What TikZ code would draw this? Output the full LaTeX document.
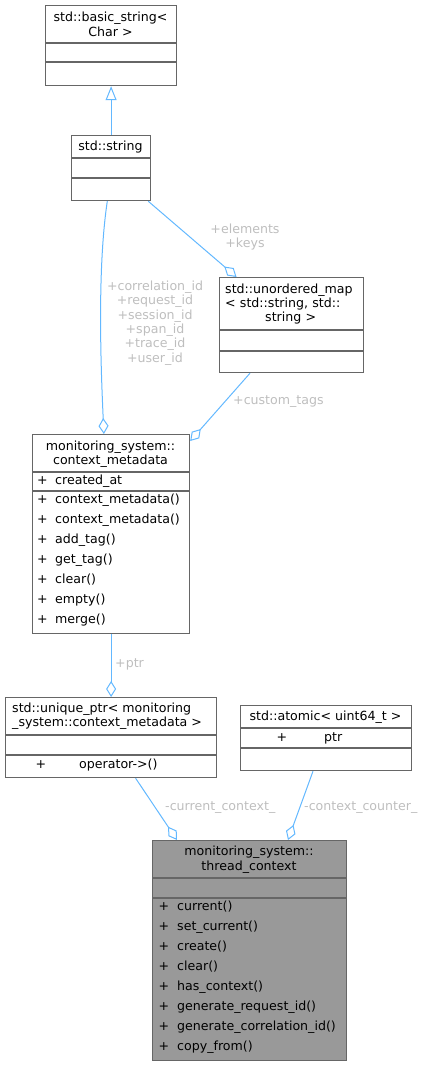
\documentclass[tikz,border=0pt]{standalone}
\usepackage{fontspec}
\setmainfont{DejaVu Sans}
\usetikzlibrary{arrows.meta}
\definecolor{edgec}{HTML}{63B8FF}
\definecolor{bord}{HTML}{666666}
\definecolor{labc}{HTML}{BEBEBE}
\definecolor{tcfill}{HTML}{999999}
\newcommand\dxfont{\fontsize{12.6pt}{14.4pt}\selectfont}
\tikzset{
  box/.style={draw=bord, line width=1.2pt, fill=white, inner sep=0pt, anchor=north west},
  divl/.style={draw=bord, line width=1.2pt},
  ttl/.style={align=center, inner sep=0pt},
  row/.style={anchor=west, inner sep=0pt, text height=9.2pt, text depth=2.6pt},
  plus/.style={anchor=center, inner sep=0pt, text height=9.2pt, text depth=2.6pt},
  lab/.style={text=labc, inner sep=0pt, align=center},
  edge/.style={draw=edgec, line width=1pt},
  agg/.style={edge, -{Diamond[open, length=16pt, width=10pt, line width=1pt]}},
  inh/.style={edge, -{Triangle[open, length=14pt, width=11pt, line width=1pt, fill=white]}}
}
\begin{document}
\begin{tikzpicture}[x=1pt, y=-1pt, font=\dxfont]
\useasboundingbox (0,0) rectangle (427,1065);

% std::basic_string<Char>
\node[box, minimum width=131pt, minimum height=80pt] (b1) at (45,5) {};
\draw[divl] (b1.west |- 0,43) -- (b1.east |- 0,43);
\draw[divl] (b1.west |- 0,62) -- (b1.east |- 0,62);
\node[ttl] (t1) at (110.5,24.5) {std::basic\_string<\\Char >};

% std::string
\node[box, minimum width=79pt, minimum height=65pt] (b2) at (71,135) {};
\draw[divl] (b2.west |- 0,158) -- (b2.east |- 0,158);
\draw[divl] (b2.west |- 0,178) -- (b2.east |- 0,178);
\node[ttl] (t2) at (110.5,147) {std::string};

% std::unordered_map
\node[box, minimum width=144pt, minimum height=95pt] (b3) at (219,277) {};
\draw[divl] (b3.west |- 0,330) -- (b3.east |- 0,330);
\draw[divl] (b3.west |- 0,351) -- (b3.east |- 0,351);
\node[inner sep=0pt, align=left, text width=131pt, anchor=west] (t3) at (225,304)
  {std::unordered\_map\\< std::string, std::\\\makebox[131pt][c]{string >}};

% monitoring_system::context_metadata
\node[box, minimum width=157pt, minimum height=199pt] (b4) at (32,434) {};
\draw[divl] (b4.west |- 0,472) -- (b4.east |- 0,472);
\draw[divl] (b4.west |- 0,491) -- (b4.east |- 0,491);
\node[ttl] (t4) at (110.5,454) {monitoring\_system::\\context\_metadata};
\node[plus] (cma) at (42.5,481) {+};
\node[row] (cmat) at (55,481) {created\_at};
\foreach \t [count=\i] in {context\_metadata(),context\_metadata(),add\_tag(),get\_tag(),clear(),empty(),merge()} {
  \node[plus] (cmp\i) at (42.5,{480+20*\i}) {+};
  \node[row] (cmm\i) at (55,{480+20*\i}) {\t};
}

% std::unique_ptr
\node[box, minimum width=211pt, minimum height=80pt] (b5) at (5,697) {};
\draw[divl] (b5.west |- 0,735) -- (b5.east |- 0,735);
\draw[divl] (b5.west |- 0,755) -- (b5.east |- 0,755);
\node[inner sep=0pt, align=left, anchor=west] (t5) at (12,716)
  {std::unique\_ptr< monitoring\\\_system::context\_metadata >};
\node[plus] (upp) at (41,765) {+};
\node[row] (upo) at (79,765) {operator->()};

% std::atomic
\node[box, minimum width=171pt, minimum height=65pt] (b6) at (240,705) {};
\draw[divl] (b6.west |- 0,728) -- (b6.east |- 0,728);
\draw[divl] (b6.west |- 0,748) -- (b6.east |- 0,748);
\node[ttl] (t6) at (325.5,717) {std::atomic< uint64\_t >};
\node[plus] (atp) at (282,738) {+};
\node[row] (atr) at (324,738) {ptr};

% monitoring_system::thread_context
\node[box, fill=tcfill, minimum width=194pt, minimum height=220pt] (b7) at (152,840) {};
\draw[divl] (b7.west |- 0,878) -- (b7.east |- 0,878);
\draw[divl] (b7.west |- 0,898) -- (b7.east |- 0,898);
\node[ttl] (t7) at (249,859.5) {monitoring\_system::\\thread\_context};
\foreach \t [count=\i] in {current(),set\_current(),create(),clear(),has\_context(),generate\_request\_id(),generate\_correlation\_id(),copy\_from()} {
  \node[plus] (tcp\i) at (164,{887+20*\i}) {+};
  \node[row] (tcm\i) at (177,{887+20*\i}) {\t};
}

% edges
\draw[inh] (b2.north) -- (b1.south);
\draw[agg] ([xshift=-3.8pt]b2.south) .. controls (97,270) and (101,370) .. ([xshift=-7.2pt]b4.north);
\node[lab] (l1) at (155,323) {+correlation\_id\\+request\_id\\+session\_id\\+span\_id\\+trace\_id\\+user\_id};
\draw[agg] ([xshift=-3pt]b2.south east) -- ([xshift=17.5pt]b3.north west);
\node[lab] (l2) at (245,237) {+elements\\+keys};
\draw[agg] ([xshift=31pt]b3.south west) -- ([yshift=-7pt]b4.north east);
\node[lab, anchor=west] (l3) at (233,402) {+custom\_tags};
\draw[agg] (b4.south) -- (b5.north);
\node[lab, anchor=west] (l4) at (115,664) {+ptr};
\draw[agg] ([xshift=24.5pt]b5.south) -- ([xshift=25pt]b7.north west);
\node[lab, anchor=west] (l5) at (165,808) {-current\_context\_};
\draw[agg] ([xshift=73pt]b6.south west) -- ([xshift=136pt]b7.north west);
\node[lab, anchor=west] (l6) at (304,808) {-context\_counter\_};
\end{tikzpicture}
\end{document}
